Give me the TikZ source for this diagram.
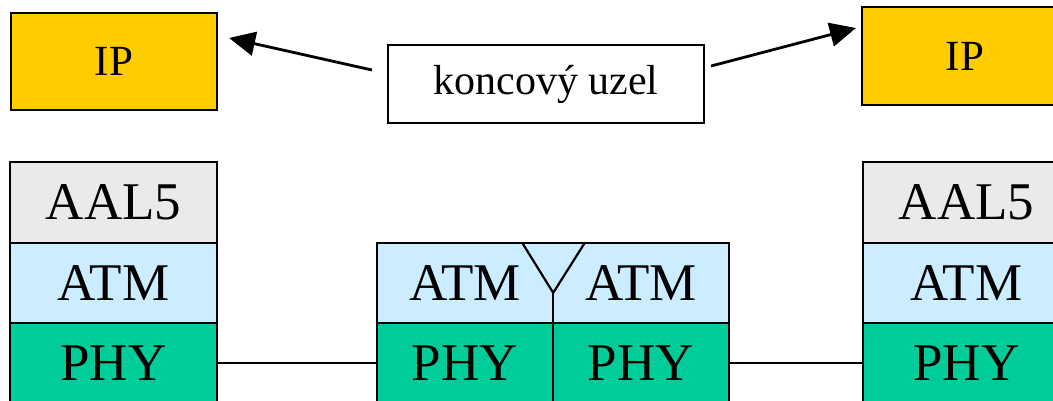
\documentclass[tikz,border=0pt]{standalone}
\usepackage{fontspec}
\setmainfont{Liberation Serif}
\usetikzlibrary{arrows.meta}
\definecolor{ipyellow}{HTML}{FFCC00}
\definecolor{aalgrey}{HTML}{EAEAEA}
\definecolor{atmblue}{HTML}{CCECFF}
\definecolor{phygreen}{HTML}{00CC99}
\tikzset{
  cell/.style={draw=black, line width=2.2pt, rectangle, inner sep=0pt, font=\fontsize{53}{60}\selectfont},
  opencell/.style={rectangle, inner sep=0pt, font=\fontsize{53}{60}\selectfont},
  ipbox/.style={draw=black, line width=2.2pt, fill=ipyellow, minimum width=206pt, minimum height=97pt, inner sep=0pt, font=\fontsize{43}{50}\selectfont},
  labelbox/.style={draw=black, line width=2.2pt, fill=white, minimum width=316pt, minimum height=78pt, inner sep=0pt, font=\fontsize{42}{50}\selectfont},
  arr/.style={line width=2.8pt, -{Triangle[length=26pt,width=24pt]}},
  link/.style={line width=2.2pt}
}
\begin{document}
\begin{tikzpicture}[x=1pt,y=-1pt]
\useasboundingbox (0,0) rectangle (1053,401);
\clip (0,0) rectangle (1053,401);
% top
\node[ipbox] (ipL) at (114,61.5) {IP};
\node[ipbox, minimum height=98pt] (ipR) at (965,56) {IP};
\node[labelbox] (k) at (546,84) {koncový uzel};
\draw[arr] ([shift={(-15,-14)}]k.west) -- ([shift={(11,-23.5)}]ipL.east);
\draw[arr] ([shift={(6,-18)}]k.east) -- ([shift={(-5,-28)}]ipR.west);
% left stack
\node[cell, fill=aalgrey, minimum width=207pt, minimum height=81pt] (aalL) at (113.5,202.5) {AAL5};
\node[cell, fill=atmblue, minimum width=207pt, minimum height=80pt] (atmL) at (113.5,283) {ATM};
\node[cell, fill=phygreen, minimum width=207pt, minimum height=80pt] (phyL) at (113.5,363) {PHY};
% right stack
\node[cell, fill=aalgrey, minimum width=207pt, minimum height=81pt] (aalR) at (966.5,202.5) {AAL5};
\node[cell, fill=atmblue, minimum width=207pt, minimum height=80pt] (atmR) at (966.5,283) {ATM};
\node[cell, fill=phygreen, minimum width=207pt, minimum height=80pt] (phyR) at (966.5,363) {PHY};
% middle
\node[opencell, fill=atmblue, minimum width=176pt, minimum height=80pt] (matmL) at (465,283) {ATM};
\node[opencell, fill=atmblue, minimum width=176pt, minimum height=80pt] (matmR) at (641,283) {ATM};
\draw[link] (matmL.north west) rectangle (matmR.south east);
\node[cell, fill=phygreen, minimum width=176pt, minimum height=80pt] (mphyL) at (465,363) {PHY};
\node[cell, fill=phygreen, minimum width=176pt, minimum height=80pt] (mphyR) at (641,363) {PHY};
\draw[link] ([xshift=-31pt]matmL.north east) -- ([yshift=-50pt]matmL.north east) -- ([xshift=32pt]matmR.north west);
\draw[link] ([yshift=-50pt]matmL.north east) -- (matmL.south east);
% links
\draw[link] (phyL.east) -- (mphyL.west);
\draw[link] (mphyR.east) -- (phyR.west);
\end{tikzpicture}
\end{document}
